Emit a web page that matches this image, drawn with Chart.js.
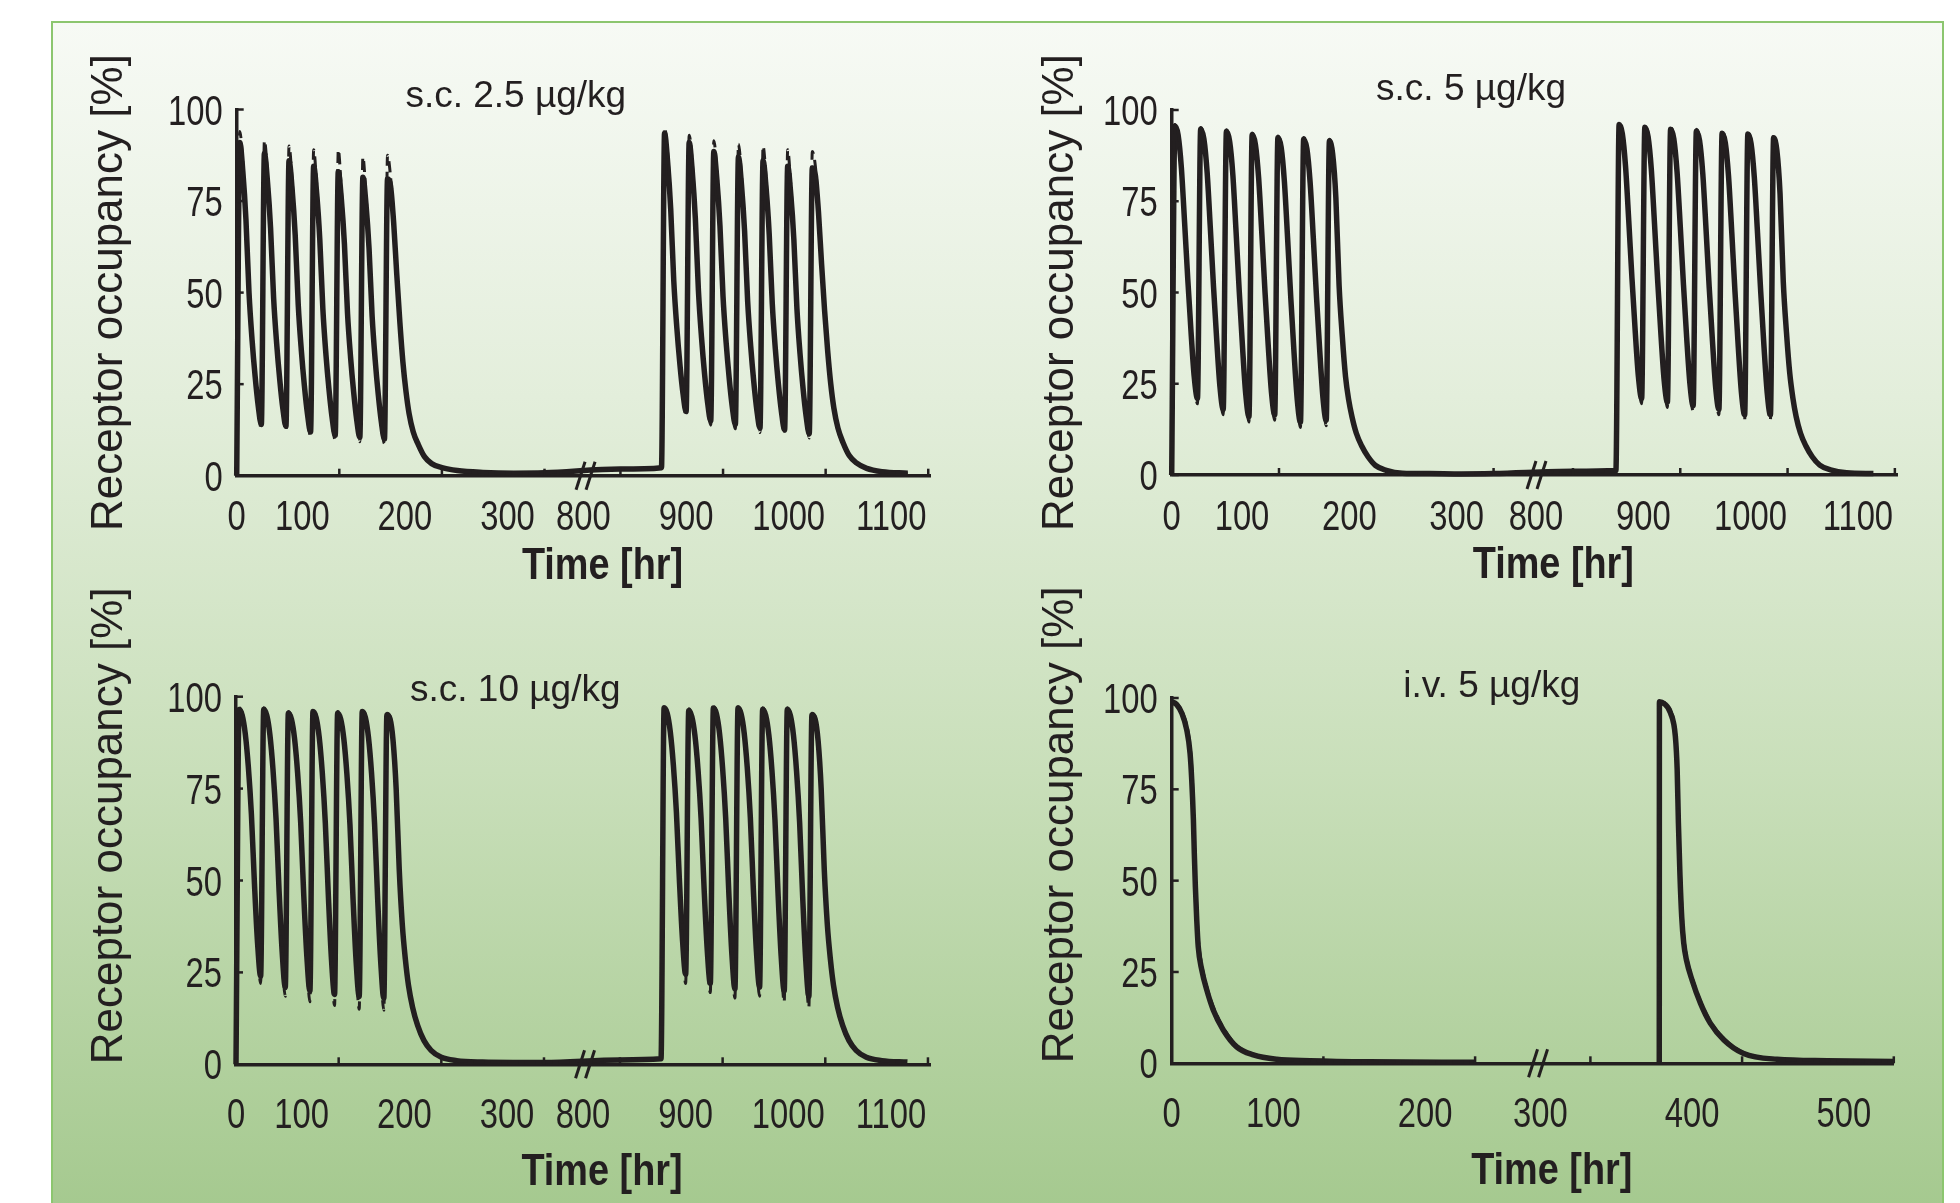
<!DOCTYPE html>
<html>
<head>
<meta charset="utf-8">
<script src="https://cdn.jsdelivr.net/npm/chart.js@4.4.1/dist/chart.umd.min.js"></script>
<style>
  html, body { margin: 0; padding: 0; background: #fff; }
  #page { position: relative; width: 1960px; height: 1203px; overflow: hidden; background: #fff; }
  #frame {
    position: absolute; left: 51px; top: 21px; width: 1893px; height: 1250px;
    box-sizing: border-box; border: 2.5px solid #8cc66f;
    background: linear-gradient(to bottom, #f7faf5 0%, #e3eedb 30%, #c9dfba 60%, #a0c689 100%);
  }
  canvas { position: absolute; }
</style>
</head>
<body>
<div id="page">
  <div id="frame"></div>
  <canvas id="p1" width="910" height="590" style="left:60px;top:25px"></canvas>
  <canvas id="p2" width="960" height="590" style="left:990px;top:25px"></canvas>
  <canvas id="p3" width="910" height="643" style="left:60px;top:560px"></canvas>
  <canvas id="p4" width="960" height="643" style="left:990px;top:560px"></canvas>
</div>
<script>
// time grid (hours) shared by the three s.c. panels
const scHours = [
  0, 3, 6, 9, 12, 15, 18, 21, 24, 27, 30, 33, 36, 39, 42, 45, 48, 51, 54, 57, 60, 63, 66, 69, 72,
  75, 78, 81, 84, 87, 90, 93, 96, 99, 102, 105, 108, 111, 114, 117, 120, 123, 126, 129, 132, 135, 138, 141, 144,
  147, 150, 153, 156, 159, 162, 165, 168, 172, 177, 183, 190, 200, 215, 240, 270, 300,
  800,
  840, 843, 846, 849, 852, 855, 858, 861, 864, 867, 870, 873, 876, 879, 882, 885, 888, 891, 894, 897, 900, 903, 906, 909, 912,
  915, 918, 921, 924, 927, 930, 933, 936, 939, 942, 945, 948, 951, 954, 957, 960, 963, 966, 969, 972, 975, 978, 981, 984,
  987, 990, 993, 996, 999, 1002, 1005, 1008, 1012, 1017, 1023, 1030, 1040, 1055, 1080
];

// s.c. 2.5 ug/kg
const sc25Solid = [
  0, 91, 83, 70, 50, 37, 27, 19, 14, 88, 80.3, 67.7, 48.4, 35.9, 26.1, 18.3, 13.5, 86, 78.3, 65.8, 46.6, 34.2, 24.5, 16.8, 12,
  84.5, 76.9, 64.4, 45.4, 33, 23.4, 15.8, 11, 83, 75.5, 63.2, 44.4, 32.3, 22.8, 15.2, 10.5, 81.5, 74.1, 62, 43.5, 31.5, 22.1, 14.6, 10,
  81, 79, 69, 55, 42, 31, 23, 17, 12, 8.5, 5.2, 3.3, 2.2, 1.4, 0.9, 0.7, 0.8,
  1.8,
  2.2, 93.5, 85.6, 72.8, 53.1, 40.3, 30.3, 22.4, 17.5, 91, 83.1, 70.3, 50.6, 37.8, 27.8, 19.9, 15, 88.5, 80.8, 68.2, 48.9, 36.4, 26.6, 18.8, 14,
  87, 79.3, 66.8, 47.6, 35.2, 25.5, 17.8, 13, 86, 78.4, 65.9, 46.9, 34.5, 24.9, 17.3, 12.5, 84.5, 76.9, 64.6, 45.7, 33.4, 23.8, 16.2, 11.5,
  84, 82, 72, 58, 45, 34, 25, 18.5, 13, 9, 5.5, 3.5, 2, 1.1, 0.7
];
const sc25Dashed = [
  0, 94, 85.5, 71.5, 51, 37, 26.5, 18, 12.8, 91.5, 82.8, 69.2, 49.4, 35.9, 25.6, 17.3, 12.3, 90, 80.8, 67.3, 47.6, 34.2, 24, 15.8, 10.8,
  89, 79.4, 65.9, 46.4, 33, 22.9, 14.8, 9.8, 89, 78, 64.7, 45.4, 32.3, 22.3, 14.2, 9.3, 87, 76.6, 63.5, 44.5, 31.5, 21.6, 13.6, 8.8,
  87.5, 81.5, 70.5, 56, 42, 30.5, 22.5, 16.5, 11.5, 8, 5, 3.2, 2.1, 1.3, 0.9, 0.7, 0.8,
  1.7,
  2.1, 95, 88.1, 74.3, 54.1, 40.3, 29.8, 21.4, 16.3, 93, 85.6, 71.8, 51.6, 37.8, 27.3, 18.9, 13.8, 91.5, 83.3, 69.7, 49.9, 36.4, 26.1, 17.8, 12.8,
  90.5, 81.8, 68.3, 48.6, 35.2, 25, 16.8, 11.8, 90, 80.9, 67.4, 47.9, 34.5, 24.4, 16.3, 11.3, 89, 79.4, 66.1, 46.7, 33.4, 23.3, 15.2, 10.3,
  88.5, 84.5, 73.5, 59, 45, 33.5, 24.5, 18, 12.5, 8.5, 5.3, 3.4, 2, 1.1, 0.7
];

// s.c. 5 ug/kg
const sc5Solid = [
  0, 95.6, 93.1, 84.2, 69.3, 53.6, 39.3, 26.9, 21, 94.7, 92.1, 83, 67.7, 51.5, 36.8, 24.1, 18, 94.1, 91.4, 82.2, 66.6, 50.1, 35.1, 22.2, 16,
  93.2, 90.6, 81.5, 66.2, 50, 35.3, 22.6, 16.5, 92.4, 89.8, 80.5, 65, 48.5, 33.6, 20.7, 14.5, 92, 89.4, 80.2, 64.9, 48.6, 33.9, 21.1, 15,
  91.5, 88, 76, 52, 38, 27, 20.5, 16, 11.5, 8, 5, 2.6, 1.3, 0.5, 0.4, 0.3, 0.4,
  1.0,
  1.2, 96, 93.5, 84.5, 69.6, 53.8, 39.4, 26.9, 21, 95.3, 92.7, 83.8, 68.8, 52.9, 38.4, 25.9, 20, 94.7, 92.1, 83.1, 68.1, 52.1, 37.5, 25, 19,
  94.2, 91.6, 82.5, 67.4, 51.3, 36.7, 24, 18, 93.6, 91, 81.8, 66.5, 50.2, 35.4, 22.6, 16.5, 93.4, 90.8, 81.6, 66.3, 50.1, 35.3, 22.6, 16.5,
  92.4, 89, 77, 53, 39, 28, 21, 16, 11.5, 8, 5, 2.7, 1.4, 0.6, 0.4
];
const sc5Dashed = [
  0, 96, 93.8, 85.5, 71, 55, 40, 26.5, 19.5, 95.2, 92.8, 84.3, 69.4, 52.9, 37.5, 23.7, 16.5, 94.6, 92.1, 83.5, 68.3, 51.5, 35.8, 21.8, 14.5,
  93.7, 91.3, 82.8, 67.9, 51.4, 36, 22.2, 15, 92.9, 90.5, 81.8, 66.7, 49.9, 34.3, 20.3, 13, 92.5, 90.1, 81.5, 66.6, 50, 34.6, 20.7, 13.5,
  92, 88.8, 77.5, 54, 39.5, 28, 21, 16, 11.5, 8, 5, 2.6, 1.3, 0.5, 0.4, 0.3, 0.4,
  1.0,
  1.2, 96.4, 94.2, 85.8, 71.3, 55.2, 40.1, 26.5, 19.5, 95.8, 93.4, 85.1, 70.5, 54.3, 39.1, 25.5, 18.5, 95.2, 92.8, 84.4, 69.8, 53.5, 38.2, 24.6, 17.5,
  94.7, 92.3, 83.8, 69.1, 52.7, 37.4, 23.6, 16.5, 94.1, 91.7, 83.1, 68.2, 51.6, 36.1, 22.2, 15, 93.9, 91.5, 82.9, 68, 51.5, 36, 22.2, 15,
  92.9, 89.8, 78.5, 55, 40.5, 29, 21.5, 16.5, 12, 8.3, 5.2, 2.8, 1.4, 0.6, 0.4
];

// s.c. 10 ug/kg
const sc10Solid = [
  0, 96.5, 95, 90, 81, 68, 49, 33, 24, 96.5, 94.9, 89.7, 80.3, 66.8, 47, 30.4, 21, 95.5, 93.9, 88.7, 79.3, 65.8, 46, 29.4, 20,
  96, 94.4, 89.1, 79.5, 65.7, 45.6, 28.5, 19, 95.5, 93.9, 88.6, 79, 65.2, 45.1, 28, 18.5, 96, 94.4, 89, 79.3, 65.3, 44.9, 27.7, 18,
  95, 94, 88, 75, 53, 38, 28.5, 21.5, 15.5, 10.5, 6.5, 3.8, 1.9, 1, 0.6, 0.5, 0.5,
  1.2,
  1.5, 97, 95.5, 90.5, 81.5, 68.5, 49.5, 33.5, 24.5, 96.2, 94.6, 89.5, 80.3, 67, 47.6, 31.2, 22, 96.9, 95.3, 90, 80.5, 66.9, 46.9, 30, 20.5,
  96.9, 95.3, 90.1, 80.7, 67.1, 47.2, 30.4, 21, 96.5, 94.9, 89.6, 80.1, 66.4, 46.4, 29.5, 20, 96.5, 94.9, 89.5, 79.8, 65.8, 45.4, 28.2, 18.5,
  95, 94, 88, 75, 53, 38, 28.5, 21.5, 15.5, 10.5, 6.5, 3.8, 1.9, 1, 0.6
];
const sc10Dashed = [
  0, 97, 95.6, 91, 82.5, 70, 51, 32.5, 22, 97, 95.5, 90.7, 81.8, 68.8, 49, 29.5, 18.5, 96, 94.5, 89.7, 80.8, 67.8, 48, 28.5, 17,
  96.5, 95, 90.1, 81, 67.7, 47.6, 27.5, 16, 96, 94.5, 89.6, 80.5, 67.2, 47.1, 27, 15, 96.5, 95, 90, 80.8, 67.3, 46.9, 26.7, 14.7,
  95.5, 94.6, 89.5, 77, 55.5, 39.5, 29, 21.5, 15, 10, 6.2, 3.7, 1.9, 1, 0.6, 0.5, 0.5,
  1.2,
  1.5, 97.4, 96, 91.5, 83, 70.5, 51.5, 33, 22, 96.7, 95.2, 90.5, 81.8, 69, 49.6, 30.3, 19.5, 97.3, 95.9, 91, 82, 68.9, 48.9, 29, 18,
  97.3, 95.9, 91.1, 82.2, 69.1, 49.2, 29.4, 18.5, 97, 95.5, 90.6, 81.6, 68.4, 48.4, 28.5, 17, 97, 95.5, 90.5, 81.3, 67.8, 47.4, 27.2, 15.5,
  95.5, 94.6, 89.5, 77, 55.5, 39.5, 29, 21.5, 15, 10, 6.2, 3.7, 1.9, 1, 0.6
];

// i.v. 5 ug/kg (null = no curve between the two doses)
const ivHours = [
  0, 3.3, 6.6, 9.9, 12.1, 13.2, 14.3, 14.9, 15.6, 16.5, 17.5, 19.8, 23.1, 27.4, 34, 42.8, 53.8, 69.2, 91.2, 130, 200,
  250,
  345.4, 345.5, 348.5, 352.8, 356, 357.2, 358, 359, 360.2, 361.5, 363.3, 367, 372.6, 379, 388, 401, 423, 456, 500
];
const ivSolid = [
  99, 98.2, 95.9, 91.3, 84.9, 77.6, 66.7, 57.5, 48.4, 39.3, 31.9, 25.6, 20.1, 14.6, 9.1, 4.5, 2.3, 1.1, 0.7, 0.4, 0.3,
  null,
  0, 99, 98.5, 95.9, 89.5, 80.4, 66, 52, 40, 33, 28.3, 22.8, 16.4, 11, 6.4, 2.7, 1.1, 0.7, 0.5
];
const ivDashed = [
  99, 98.5, 96.5, 92.5, 87, 81, 71, 62, 52.5, 43, 34.5, 27, 21, 15.5, 9.8, 4.9, 2.5, 1.2, 0.7, 0.4, 0.3,
  null,
  0, 99, 98.8, 96.5, 91, 83, 70, 56, 43.5, 35, 29.5, 23.5, 17, 11.5, 6.8, 2.9, 1.2, 0.7, 0.5
];

// tick labels
const scTickHours = [0, 100, 200, 300, 800, 900, 1000, 1100];
const ivTickHours = [0, 100, 200, 300, 400, 500];
const yTicks = [0, 25, 50, 75, 100];

const INK = '#231f20';
const SANS = "'Liberation Sans', Arial, sans-serif";

// broken time axis: hours -> axis units and back
const toScAxis = h => (h <= 340 ? h : h - 426);
const fromScAxis = u => (u <= 340 ? u : u + 426);
const toIvAxis = h => (h <= 243 ? h : h - 24);
const fromIvAxis = u => (u <= 243 ? u : u + 24);

const panels = [
  { id: 'p1', title: 's.c. 2.5 µg/kg', titleAt: [272, 103.5], hours: scHours, solid: sc25Solid, dashed: sc25Dashed,
    ticks: scTickHours, toAxis: toScAxis, fromAxis: fromScAxis, max: 676, breakAt: 340, labelShift: -37,
    pad: { left: 23.2, right: 39.7, top: 84.5, bottom: 25.3 }, yWidth: 153.5, xHeight: 114,
    labelGap: 54.7, xTitleGap: 103, yTitleAlign: 'center' },
  { id: 'p2', title: 's.c. 5 µg/kg', titleAt: [279, 105.5], hours: scHours, solid: sc5Solid, dashed: sc5Dashed,
    ticks: scTickHours, toAxis: toScAxis, fromAxis: fromScAxis, max: 676, breakAt: 340, labelShift: -37,
    pad: { left: 44.2, right: 53, top: 85, bottom: 26 }, yWidth: 137.5, xHeight: 114,
    labelGap: 54.7, xTitleGap: 103, yTitleAlign: 'center' },
  { id: 'p3', title: 's.c. 10 µg/kg', titleAt: [272, 101.5], hours: scHours, solid: sc10Solid, dashed: sc10Dashed,
    ticks: scTickHours, toAxis: toScAxis, fromAxis: fromScAxis, max: 676, breakAt: 340, labelShift: -37,
    pad: { left: 23.2, right: 40, top: 136.7, bottom: 6.7 }, yWidth: 152.8, xHeight: 132,
    labelGap: 63.2, xTitleGap: 121, yTitleAlign: 'start' },
  { id: 'p4', title: 'i.v. 5 µg/kg', titleAt: [211, 103], hours: ivHours, solid: ivSolid, dashed: ivDashed,
    ticks: ivTickHours, toAxis: toIvAxis, fromAxis: fromIvAxis, max: 476, breakAt: 241.5, labelShift: -50,
    pad: { left: 44.2, right: 56.2, top: 138, bottom: 7.7 }, yWidth: 137.5, xHeight: 132,
    labelGap: 63.2, xTitleGap: 121, yTitleAlign: 'start' }
];

// narrow lettering like the original figure
function squeezedText(ctx, text, x, y, font, squeeze, align) {
  ctx.save();
  ctx.translate(x, y);
  ctx.scale(squeeze, 1);
  ctx.font = font;
  ctx.textAlign = align;
  ctx.textBaseline = 'alphabetic';
  ctx.fillStyle = INK;
  ctx.fillText(text, 0, 0);
  ctx.restore();
}

// inward ticks, tick labels, axis break, x title and the panel caption
function makeDecor(p) {
  return {
    id: 'decor',
    afterDraw(chart) {
      const { ctx, chartArea: a, scales: { x, y } } = chart;
      const line = (x1, y1, x2, y2) => { ctx.beginPath(); ctx.moveTo(x1, y1); ctx.lineTo(x2, y2); ctx.stroke(); };
      ctx.save();
      ctx.strokeStyle = INK;
      ctx.lineWidth = 2.5;
      x.ticks.forEach(t => {
        const px = x.getPixelForValue(t.value);
        line(px, a.bottom, px, a.bottom - 7);
        squeezedText(ctx, String(p.fromAxis(t.value)), px + (t.value === 0 ? 0 : p.labelShift),
          a.bottom + p.labelGap, '42px ' + SANS, 0.78, 'center');
      });
      y.ticks.forEach(t => {
        const py = y.getPixelForValue(t.value);
        line(a.left, py, a.left + 7, py);
        squeezedText(ctx, String(t.value), a.left - 14, py + 15, '42px ' + SANS, 0.78, 'right');
      });
      ctx.lineWidth = 3;
      const bx = x.getPixelForValue(p.breakAt);
      [-5, 5].forEach(d => line(bx + d - 4.5, a.bottom + 14, bx + d + 4.5, a.bottom - 14));
      squeezedText(ctx, 'Time [hr]', (a.left + a.right) / 2 + 19, a.bottom + p.xTitleGap, 'bold 44px ' + SANS, 0.86, 'center');
      ctx.fillStyle = INK;
      ctx.font = '37px ' + SANS;
      ctx.textAlign = 'center';
      ctx.textBaseline = 'middle';
      ctx.fillText(p.title, x.getPixelForValue(p.titleAt[0]), y.getPixelForValue(p.titleAt[1]));
      ctx.restore();
    }
  };
}

panels.forEach(p => {
  const pts = vals => p.hours.map((h, i) => ({ x: p.toAxis(h), y: vals[i] }));
  const lineStyle = { borderColor: INK, pointRadius: 0, cubicInterpolationMode: 'monotone',
    borderJoinStyle: 'round', clip: 10, spanGaps: false };

  new Chart(document.getElementById(p.id), {
    type: 'line',
    data: {
      datasets: [
        { ...lineStyle, data: pts(p.dashed), borderWidth: 3, borderDash: [11, 6] },
        { ...lineStyle, data: pts(p.solid), borderWidth: 5.5 }
      ]
    },
    options: {
      responsive: false,
      animation: false,
      devicePixelRatio: 1,
      layout: { padding: p.pad },
      plugins: { legend: { display: false }, tooltip: { enabled: false } },
      scales: {
        x: {
          type: 'linear', min: 0, max: p.max,
          afterBuildTicks: s => { s.ticks = p.ticks.map(h => ({ value: p.toAxis(h) })); },
          afterFit: s => { s.height = p.xHeight; },
          grid: { display: false, drawTicks: false },
          border: { display: true, color: INK, width: 3.5 },
          ticks: { display: false }
        },
        y: {
          min: 0, max: 100,
          afterBuildTicks: s => { s.ticks = yTicks.map(v => ({ value: v })); },
          afterFit: s => { s.width = p.yWidth; },
          grid: { display: false, drawTicks: false },
          border: { display: true, color: INK, width: 3.5 },
          ticks: { display: false },
          title: { display: true, text: 'Receptor occupancy [%]', color: INK, padding: 0, align: p.yTitleAlign,
            font: { family: SANS, size: 44 } }
        }
      }
    },
    plugins: [makeDecor(p)]
  });
});
</script>
</body>
</html>
